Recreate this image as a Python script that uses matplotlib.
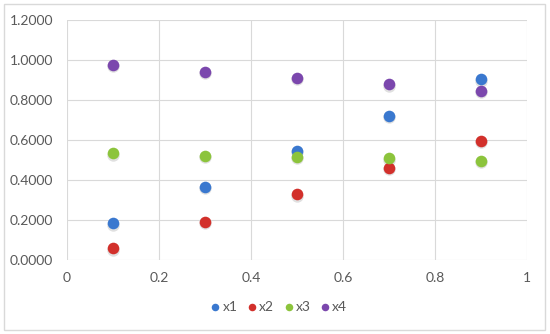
import matplotlib
matplotlib.use("Agg")
import matplotlib.pyplot as plt
from matplotlib.patches import Rectangle
from matplotlib.ticker import FixedLocator, FuncFormatter

xs = [0.1, 0.3, 0.5, 0.7, 0.9]
x1 = [0.183, 0.365, 0.545, 0.722, 0.903]
x2 = [0.058, 0.192, 0.328, 0.460, 0.597]
x3 = [0.533, 0.522, 0.517, 0.508, 0.497]
x4 = [0.975, 0.942, 0.912, 0.878, 0.845]
series_names = ["x1", "x2", "x3", "x4"]
colors = ["#3a78cf", "#d2302b", "#8cc43c", "#7b47ad"]
xticks = [0, 0.2, 0.4, 0.6, 0.8, 1]
yticks = [0.0, 0.2, 0.4, 0.6, 0.8, 1.0, 1.2]

plt.rcParams['font.family'] = ['Lato', 'DejaVu Sans']

fig = plt.figure(figsize=(5.5, 3.34), dpi=100)
W, H = 550, 334
ax = fig.add_axes([67 / W, 1 - 260 / H, 460 / W, 240 / H])

for name, ys, c in zip(series_names, [x1, x2, x3, x4], colors):
    ax.scatter(xs, [y - 0.006 for y in ys], s=80, color="#000000", alpha=0.12,
               linewidths=0, zorder=2)
    ax.scatter(xs, ys, s=70, color=c, linewidths=0, zorder=3, label=name)

ax.set_xlim(0, 1)
ax.set_ylim(0, 1.2)
ax.xaxis.set_major_locator(FixedLocator(xticks))
ax.yaxis.set_major_locator(FixedLocator(yticks))
ax.xaxis.set_major_formatter(FuncFormatter(lambda v, p: f"{v:g}"))
ax.yaxis.set_major_formatter(FuncFormatter(lambda v, p: f"{v:.4f}"))
ax.grid(True, color="#d9d9d9", linewidth=0.8, zorder=0)
ax.set_axisbelow(True)
for s in ax.spines.values():
    s.set_visible(False)
ax.tick_params(length=0, labelsize=10, labelcolor="#595959", pad=10)
ax.tick_params(axis='x', pad=9)

handles, labels = ax.get_legend_handles_labels()
leg = fig.legend(handles[:4], labels[:4], loc='center', bbox_to_anchor=(277 / W, 1 - 307 / H),
                 ncol=4, frameon=False, fontsize=10, handletextpad=-0.1, handlelength=1.2,
                 columnspacing=0.45, markerscale=0.65, labelcolor="#595959")

fig.patches.append(Rectangle((4 / W, 4 / H), 541 / W, 326 / H, transform=fig.transFigure,
                             fill=False, edgecolor="#d9d9d9", linewidth=1.0))

fig.savefig("out.png", dpi=100)
